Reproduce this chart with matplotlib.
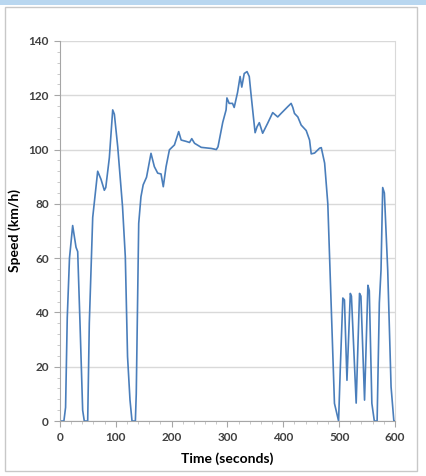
import numpy as np
import matplotlib
matplotlib.use("Agg")
import matplotlib.pyplot as plt
from matplotlib.patches import Rectangle
from matplotlib.ticker import MultipleLocator

# ==============================
# DATA
# ==============================
time_s = [0, 7, 10, 13, 17, 22.7, 28.7, 31.7, 36, 40.6, 43.5, 49.6, 52.5, 58.6,
          67.5, 73.5, 79.4, 82, 88.4, 94.4, 97.4, 103.4, 112, 117, 121, 125.4,
          129, 135, 136.6, 141, 145, 149, 155, 163, 169, 175, 181, 185, 190,
          196, 205, 212.6, 217, 226, 232, 236, 241, 253, 271, 280, 283, 291.5,
          297.5, 299, 303, 309, 312, 318, 322.6, 325.6, 330, 335, 339, 342,
          347, 349.5, 353, 357, 363, 372, 381, 390, 396, 408, 414, 417, 420,
          426, 432, 441, 447, 450, 456, 465, 468, 474, 479.7, 485.6, 491.6,
          499, 502, 506.6, 509.5, 514, 520, 522, 530.5, 536.5, 539, 545.5,
          551.5, 554, 558.6, 563, 568, 572, 575, 578, 581, 587, 593, 598, 600]
speed_kmh = [0, 0, 5, 38, 60, 72, 64, 62.4, 35, 4, 0, 0, 36, 75,
             92, 89, 85, 86, 97, 114.6, 113, 101, 79, 60.5, 23.7, 7.7,
             0, 0, 10, 72.8, 82.6, 87, 89.8, 98.6, 93.7, 91.3, 91, 86.3, 93.7,
             99.9, 101.7, 106.6, 103.5, 103, 102.6, 104, 102.3, 100.8, 100.4, 100, 101, 110,
             114.6, 119, 117, 117, 115.5, 121, 126.9, 123, 128, 128.7, 126.9, 120.7,
             110.9, 106.2, 108.4, 109.9, 106, 109.7, 113.6, 112, 113.3, 115.8, 117, 115.5, 113.3,
             112, 109, 107, 103.5, 98.4, 98.7, 100.5, 100.7, 95, 80, 43.5, 6.5,
             0, 19, 45.3, 44.6, 15, 47, 46, 6.6, 47, 46, 7.7,
             50, 48, 6.5, 0, 0, 43.5, 55.6, 86, 84, 55.6, 12.6, 0, 0]

x_ticks = [0, 100, 200, 300, 400, 500, 600]
y_ticks = [0, 20, 40, 60, 80, 100, 120, 140]

# ==============================
# FIGURE
# ==============================
plt.rcParams['font.family'] = ['Lato', 'DejaVu Sans']

fig = plt.figure(figsize=(4.27, 4.76), dpi=100)

# outer chart frame
fig.patches.append(Rectangle((0.012, 0.01), 0.965, 0.975, transform=fig.transFigure,
                             fill=False, edgecolor='#c8c8c8', linewidth=1.0))
fig.patches.append(Rectangle((0.0, 0.99), 1.0, 0.01, transform=fig.transFigure,
                             facecolor='#b9d7f0', edgecolor='none'))

ax = fig.add_axes([0.1405, 0.1155, 0.7845, 0.7985])
ax.plot(time_s, speed_kmh, color='#4a7ebb', linewidth=1.2)

ax.set_xlim(0, 600)
ax.set_ylim(0, 140)
ax.set_xticks(x_ticks)
ax.set_yticks(y_ticks)
ax.xaxis.set_minor_locator(MultipleLocator(20))
ax.yaxis.set_minor_locator(MultipleLocator(4))
ax.grid(axis='y', color='#d9d9d9', linewidth=1.0)
ax.set_axisbelow(True)

for side in ['left', 'bottom']:
    ax.spines[side].set_color('#a6a6a6')
ax.spines['right'].set_color('#d9d9d9')
ax.spines['top'].set_visible(False)

ax.tick_params(axis='both', which='major', length=4, color='#a6a6a6',
               labelsize=8.5, width=0.8, pad=4)
ax.tick_params(axis='both', which='minor', length=2, color='#c0c0c0', width=0.6)
for lbl in ax.get_xticklabels() + ax.get_yticklabels():
    lbl.set_fontweight('bold')
    lbl.set_color('#404040')

ax.set_xlabel("Time (seconds)", fontsize=10, fontweight='bold')
ax.set_ylabel("Speed (km/h)", fontsize=10, fontweight='bold')
ax.yaxis.set_label_coords(-0.115, 0.5)
ax.xaxis.set_label_coords(0.5, -0.083)

fig.savefig("out.png", dpi=100)
